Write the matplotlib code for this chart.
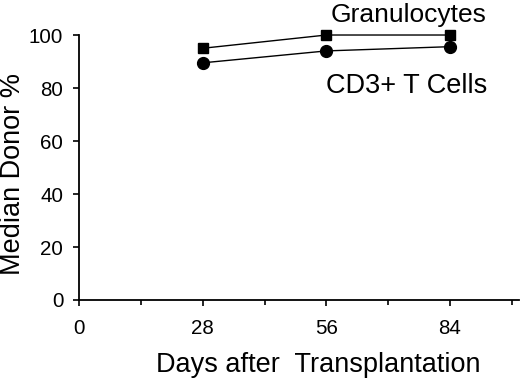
import matplotlib
matplotlib.use("Agg")
import matplotlib.pyplot as plt
from matplotlib.ticker import FixedLocator

days = [28, 56, 84]
granulocytes = [95.0, 100.0, 100.0]
cd3_t_cells = [89.5, 94.0, 95.6]
x_major = [0, 28, 56, 84]
x_minor = [14, 42, 70, 98]
y_ticks = [0, 20, 40, 60, 80, 100]

plt.rcParams['font.family'] = ['Liberation Sans', 'DejaVu Sans']

fig = plt.figure(figsize=(5.2, 3.81), dpi=100)
ax = fig.add_axes([0.152, 0.2126, 0.846, 0.6955])

ax.plot(days, granulocytes, color='black', lw=1.0, marker='s', ms=6.5, clip_on=False, zorder=3)
ax.plot(days, cd3_t_cells, color='black', lw=1.0, marker='o', ms=8.5, clip_on=False, zorder=3)

ax.set_xlim(0, 99.6)
ax.set_ylim(0, 100)
ax.xaxis.set_major_locator(FixedLocator(x_major))
ax.xaxis.set_minor_locator(FixedLocator(x_minor))
ax.set_yticks(y_ticks)
ax.tick_params(axis='both', which='major', direction='out', length=4.3, width=1.2, labelsize=14.8)
ax.tick_params(axis='y', which='major', pad=7.0)
ax.tick_params(axis='x', which='major', pad=9.5)
ax.tick_params(axis='x', which='minor', direction='out', length=3.6, width=1.2)

for s in ['top', 'right']:
    ax.spines[s].set_visible(False)
for s in ['left', 'bottom']:
    ax.spines[s].set_linewidth(1.3)

fig.text(13 / 520, 1 - 174 / 381, 'Median Donor %', fontsize=19.5,
         rotation=90, ha='center', va='center')
fig.text(318 / 520, 1 - 365 / 381, 'Days after  Transplantation', fontsize=19.5,
         ha='center', va='center')

fig.text(409 / 520, 1 - 15 / 381, 'Granulocytes', fontsize=19, ha='center', va='center')
fig.text(407 / 520, 1 - 86 / 381, 'CD3+ T Cells', fontsize=19.5, ha='center', va='center')

fig.savefig('out.png', dpi=100)
